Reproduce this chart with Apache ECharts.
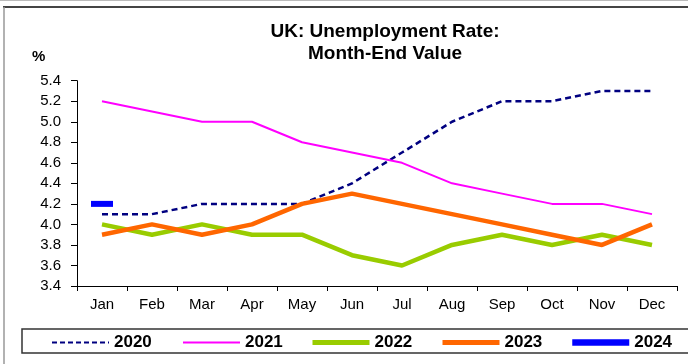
<!DOCTYPE html>
<html>
<head>
<meta charset="utf-8">
<script src="https://cdn.jsdelivr.net/npm/echarts@6/dist/echarts.min.js"></script>
<style>html,body{margin:0;padding:0;background:#fff;}#c{width:688px;height:364px;}</style>
</head>
<body>
<div id="c"></div>
<script>
var months = ['Jan','Feb','Mar','Apr','May','Jun','Jul','Aug','Sep','Oct','Nov','Dec'];
var yTicks = [3.4, 5.4, 0.2]; // min, max, interval
var seriesNames = ['2020', '2021', '2022', '2023', '2024'];
var s2020 = [4.1, 4.1, 4.2, 4.2, 4.2, 4.4, 4.7, 5.0, 5.2, 5.2, 5.3, 5.3];
var s2021 = [5.2, 5.1, 5.0, 5.0, 4.8, 4.7, 4.6, 4.4, 4.3, 4.2, 4.2, 4.1];
var s2022 = [4.0, 3.9, 4.0, 3.9, 3.9, 3.7, 3.6, 3.8, 3.9, 3.8, 3.9, 3.8];
var s2023 = [3.9, 4.0, 3.9, 4.0, 4.2, 4.3, 4.2, 4.1, 4.0, 3.9, 3.8, 4.0];
var s2024 = [4.2, null, null, null, null, null, null, null, null, null, null, null];

var FONT = '"Liberation Sans", Arial, sans-serif';
var chart = echarts.init(document.getElementById('c'), null, {renderer: 'canvas'});
function lineSeries(name, data, color, width, type) {
  return {
    name: name, type: 'line', data: data, symbol: 'none', smooth: false,
    lineStyle: {color: color, width: width, type: type || 'solid'},
    itemStyle: {color: color}, animation: false
  };
}
var s24 = lineSeries(seriesNames[4], s2024, '#0000FF', 6);
s24.symbol = 'rect'; s24.symbolSize = [22, 6]; s24.showSymbol = true;

var legendLefts = [51, 182, 310, 440, 569];
var legendLine = [
  {width: 2, type: [5, 3]},
  {width: 2},
  {width: 5},
  {width: 5},
  {width: 6.5}
];
var legends = seriesNames.map(function (n, i) {
  return {
    left: legendLefts[i], top: 334, itemWidth: 57, itemHeight: 14, padding: 0,
    itemStyle: {opacity: 0},
    textStyle: {fontFamily: FONT, fontSize: 17, fontWeight: 'bold', color: '#000'},
    data: [{name: n, lineStyle: legendLine[i]}]
  };
});

chart.setOption({
  animation: false,
  backgroundColor: '#fff',
  title: {
    text: 'UK: Unemployment Rate:\nMonth-End Value',
    left: 385, top: 21, padding: 0, textAlign: 'center',
    textStyle: {fontFamily: FONT, fontSize: 19, fontWeight: 'bold', color: '#000', lineHeight: 22}
  },
  graphic: [
    {type: 'line', shape: {x1: 0, y1: 0.5, x2: 688, y2: 0.5}, style: {stroke: '#bbb', lineWidth: 1}, z: 0},
    {type: 'line', shape: {x1: 3, y1: 7, x2: 688, y2: 7}, style: {stroke: '#444', lineWidth: 2}, z: 0},
    {type: 'line', shape: {x1: 4, y1: 7, x2: 4, y2: 364}, style: {stroke: '#999', lineWidth: 1.5}, z: 0},
    {type: 'rect', shape: {x: 22, y: 329, width: 700, height: 24}, style: {stroke: '#333', lineWidth: 1.5, fill: '#fff'}, z: 0},
    {type: 'text', left: 32, top: 49, style: {text: '%', font: 'bold 15px ' + FONT, fill: '#000'}, z: 1}
  ],
  legend: legends,
  grid: {left: 77, right: 11, top: 80.7, bottom: 78, containLabel: false},
  xAxis: {
    type: 'category', data: months, boundaryGap: true,
    axisLine: {lineStyle: {color: '#000', width: 1}},
    axisTick: {show: true, length: 5, lineStyle: {color: '#000'}},
    axisLabel: {fontFamily: FONT, fontSize: 15, color: '#000', margin: 11, interval: 0},
    splitLine: {show: false}
  },
  yAxis: {
    type: 'value', min: yTicks[0], max: yTicks[1], interval: yTicks[2],
    axisLine: {show: true, lineStyle: {color: '#000', width: 1}},
    axisTick: {show: true, length: 6, lineStyle: {color: '#000'}},
    axisLabel: {fontFamily: FONT, fontSize: 15, color: '#000', margin: 16,
      formatter: function (v) { return v.toFixed(1); }},
    splitLine: {show: false}
  },
  series: [
    lineSeries(seriesNames[0], s2020, '#000080', 2.5, [6, 4]),
    lineSeries(seriesNames[1], s2021, '#FF00FF', 2),
    lineSeries(seriesNames[2], s2022, '#99CC00', 4.5),
    lineSeries(seriesNames[3], s2023, '#FF6600', 4.5),
    s24
  ]
});
</script>
</body>
</html>
